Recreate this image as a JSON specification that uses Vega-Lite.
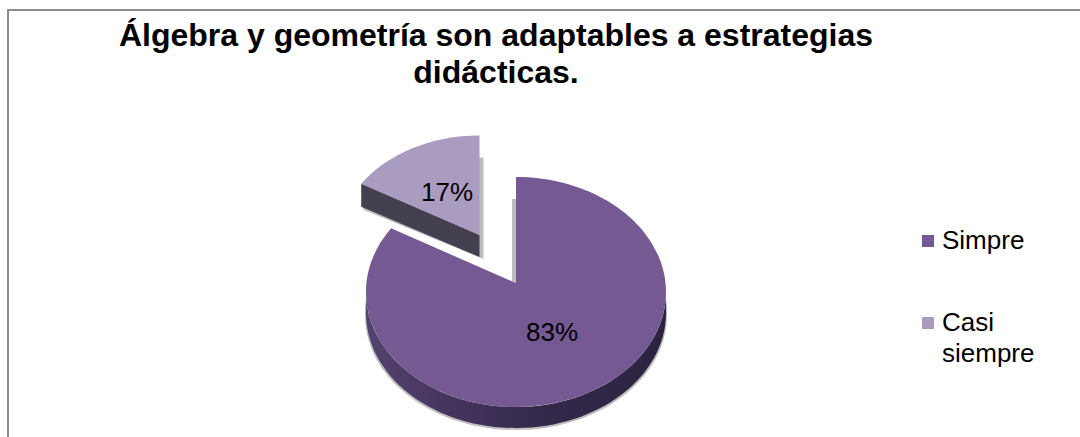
{
  "$schema": "https://vega.github.io/schema/vega-lite/v6.json",
  "width": 1090,
  "height": 440,
  "autosize": "none",
  "padding": {"left": 8, "top": 10, "right": 0, "bottom": 0},
  "background": "white",
  "view": {"stroke": "#8c8c8c", "strokeWidth": 2, "fill": "white"},
  "title": {
    "text": ["Álgebra y geometría son adaptables a estrategias", "didácticas."],
    "font": "Liberation Sans",
    "fontSize": 32,
    "fontWeight": "bold",
    "color": "#000000",
    "lineHeight": 37,
    "anchor": "middle",
    "frame": "group",
    "baseline": "top",
    "offset": -80,
    "dx": -57
  },
  "data": {
    "values": [
      {"slice": "Simpre", "value": 83},
      {"slice": "Casi siempre", "value": 17}
    ]
  },
  "transform": [
    {"calculate": "datum.slice === 'Simpre'", "as": "main"},
    {"calculate": "datum.main ? -37 : -73.5", "as": "cx"},
    {"calculate": "datum.main ? 62 : 13.5", "as": "cy"},
    {"calculate": "datum.main ? 150 : 142", "as": "a"},
    {"calculate": "datum.main ? 115 : 108", "as": "b"},
    {"calculate": "datum.main ? 9 : 8.5", "as": "lift"},
    {"calculate": "(datum.value * 3.6 + (datum.main ? 4.8 : -4.8)) * PI / 180", "as": "sweep"},
    {"calculate": "datum.cx + (datum.main ? 1 : -1) * datum.a * sin(datum.sweep)", "as": "ex"},
    {"calculate": "datum.cy - datum.b * cos(datum.sweep)", "as": "ey"},
    {"calculate": "datum.main ? 'M' + datum.cx + ',' + (datum.cy - datum.lift) + 'L' + datum.cx + ',' + (datum.cy - datum.b) + 'A' + datum.a + ',' + datum.b + ' 0 1 1 ' + datum.ex + ',' + datum.ey + 'Z' : 'M' + datum.cx + ',' + (datum.cy - datum.lift) + 'L' + datum.ex + ',' + datum.ey + 'A' + datum.a + ',' + datum.b + ' 0 0 1 ' + datum.cx + ',' + (datum.cy - datum.b) + 'Z'", "as": "face"},
    {"calculate": "datum.main ? 'M' + (datum.cx - datum.a) + ',' + datum.cy + 'A' + datum.a + ',' + datum.b + ' 0 0 0 ' + (datum.cx + datum.a) + ',' + datum.cy + 'L' + (datum.cx + datum.a) + ',' + (datum.cy + 21) + 'A' + datum.a + ',' + datum.b + ' 0 0 1 ' + (datum.cx - datum.a) + ',' + (datum.cy + 21) + 'Z' : 'M' + datum.cx + ',' + (datum.cy - datum.lift) + 'L' + datum.ex + ',' + datum.ey + 'L' + datum.ex + ',' + (datum.ey + 23) + 'L' + datum.cx + ',' + (datum.cy - datum.lift + 22) + 'Z'", "as": "side"},
    {"calculate": "datum.main ? 'M' + (datum.cx - datum.a - 1) + ',' + (datum.cy + 2) + 'A' + datum.a + ',' + datum.b + ' 0 0 0 ' + (datum.cx + datum.a + 1) + ',' + (datum.cy + 2) + 'L' + (datum.cx + datum.a + 1) + ',' + (datum.cy + 23) + 'A' + (datum.a + 1) + ',' + datum.b + ' 0 0 1 ' + (datum.cx - datum.a - 1) + ',' + (datum.cy + 23) + 'Z M' + (datum.cx - 4) + ',' + (datum.cy - 93) + 'L' + datum.cx + ',' + (datum.cy - 93) + 'L' + datum.cx + ',' + (datum.cy - 9) + 'L' + (datum.cx - 4) + ',' + (datum.cy - 11) + 'Z' : 'M' + datum.ex + ',' + (datum.ey + 2) + 'L' + (datum.ex + 2) + ',' + (datum.ey + 26) + 'L' + (datum.cx + 4) + ',' + (datum.cy - datum.lift + 24) + 'L' + (datum.cx + 4) + ',' + (datum.cy - datum.b + 22) + 'L' + datum.cx + ',' + (datum.cy - datum.b + 22) + 'Z'", "as": "shadow"},
    {"calculate": "datum.value + '%'", "as": "label"}
  ],
  "layer": [
    {
      "mark": {"type": "point", "filled": true, "size": 4, "opacity": 1, "color": "#bdbdbd", "strokeWidth": 0},
      "encoding": {"shape": {"field": "shadow", "type": "nominal", "scale": null}}
    },
    {
      "transform": [{"filter": "datum.main"}],
      "mark": {
        "type": "point", "filled": true, "size": 4, "opacity": 1, "strokeWidth": 0,
        "fill": {
          "gradient": "linear", "x1": 0, "y1": 0, "x2": 1, "y2": 0,
          "stops": [
            {"offset": 0, "color": "#54426f"},
            {"offset": 0.3, "color": "#43345c"},
            {"offset": 0.6, "color": "#33284a"},
            {"offset": 1, "color": "#2c2340"}
          ]
        }
      },
      "encoding": {"shape": {"field": "side", "type": "nominal", "scale": null}}
    },
    {
      "transform": [{"filter": "!datum.main"}],
      "mark": {"type": "point", "filled": true, "size": 4, "opacity": 1, "color": "#45404f", "strokeWidth": 0},
      "encoding": {"shape": {"field": "side", "type": "nominal", "scale": null}}
    },
    {
      "mark": {"type": "point", "filled": true, "size": 4, "opacity": 1, "strokeWidth": 0},
      "encoding": {
        "shape": {"field": "face", "type": "nominal", "scale": null},
        "color": {
          "field": "slice",
          "type": "nominal",
          "sort": null,
          "scale": {"domain": ["Simpre", "Casi siempre"], "range": ["#755992", "#aa9bc0"]},
          "legend": {
            "orient": "none",
            "legendX": 907,
            "legendY": 218,
            "title": null,
            "symbolType": "square",
            "symbolSize": 144,
            "symbolStrokeWidth": 0,
            "symbolOpacity": 1,
            "labelFont": "Liberation Sans",
            "labelFontSize": 26,
            "labelColor": "#000000",
            "labelLimit": 200,
            "labelOffset": 1,
            "rowPadding": 56,
            "labelExpr": "datum.label === 'Casi siempre' ? ['Casi', 'siempre'] : datum.label",
            "encode": {"labels": {"update": {"lineHeight": {"value": 31}}}}
          }
        }
      }
    },
    {
      "transform": [{"filter": "datum.main"}],
      "mark": {"type": "text", "font": "Liberation Sans", "fontSize": 26, "color": "#000000", "baseline": "middle", "align": "center", "dx": -1, "dy": 103},
      "encoding": {"text": {"field": "label", "type": "nominal"}}
    },
    {
      "transform": [{"filter": "!datum.main"}],
      "mark": {"type": "text", "font": "Liberation Sans", "fontSize": 26, "color": "#000000", "baseline": "middle", "align": "center", "dx": -106, "dy": -37},
      "encoding": {"text": {"field": "label", "type": "nominal"}}
    }
  ]
}
